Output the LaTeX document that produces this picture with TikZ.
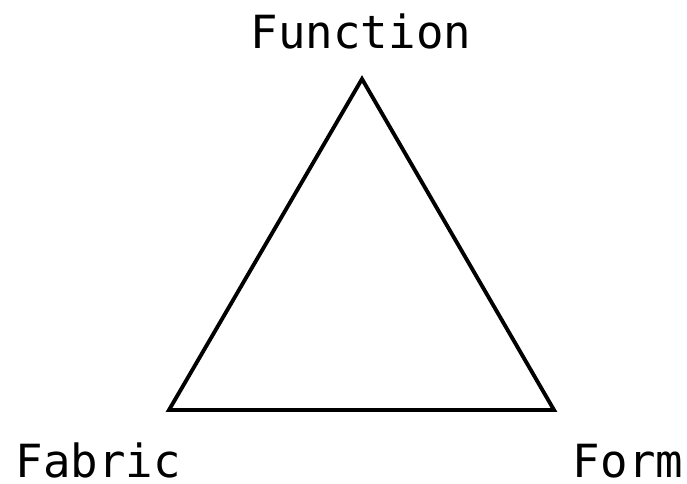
\documentclass[tikz,border=0pt]{standalone}
\usepackage{fontspec}
\setmonofont{DejaVu Sans Mono}
\usetikzlibrary{positioning}

\begin{document}
\begin{tikzpicture}[
  lbl/.style={font=\ttfamily\fontsize{26}{30}\selectfont, anchor=base, inner sep=0pt},
  edge/.style={line width=2.2pt, line join=miter}
]
  \useasboundingbox (0,0) rectangle (13.74,9.68);
  % corners of the triangle
  \coordinate (fn) at (7.24,8.10);
  \coordinate (fb) at (3.38,1.48);
  \coordinate (fm) at (11.08,1.48);
  \draw[edge] (fn) -- (fb) -- (fm) -- cycle;
  % labels
  \node[lbl] (function) at (7.22,8.70) {Function};
  \node[lbl] (fabric)   at (1.97,0.13) {Fabric};
  \node[lbl] (form)     at (12.56,0.13) {Form};
\end{tikzpicture}
\end{document}
